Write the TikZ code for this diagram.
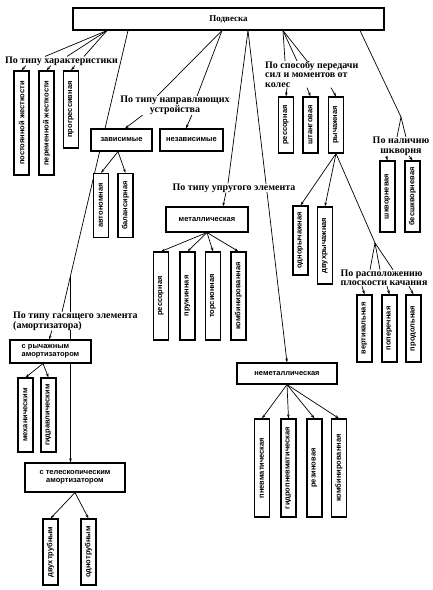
\documentclass[tikz,border=0pt]{standalone}
\usepackage{fontspec}
\setmainfont{Liberation Serif}
\setsansfont{Liberation Sans}
\usetikzlibrary{arrows.meta}
\usetikzlibrary{backgrounds}

\tikzset{
  box/.style={draw, line width=1.1pt, fill=white, inner sep=1pt, font=\sffamily\bfseries\fontsize{7.5}{8}\selectfont},
  vbox/.style={box, minimum width=15},
  lab/.style={fill=white, inner sep=0pt, font=\bfseries\fontsize{10}{9.5}\selectfont},
  conn/.style={line width=0.7pt}
}
\newcommand{\vt}[1]{\rotatebox{90}{#1}}

\begin{document}
\begin{tikzpicture}[x=1pt,y=-1pt,>={Stealth[length=4pt,width=2.6pt]}]
\useasboundingbox (0,0) rectangle (432,590);

\node [box, minimum width=311, minimum height=22, font=\bfseries\fontsize{9}{9}\selectfont] (podv) at (228.5,19) {Подвеска};

\node [lab] (lhar) at (61.5,61) {По типу характеристики};
\node [vbox, minimum height=104] (post) at (21.5,123) {\vt{постоянной жесткости}};
\node [vbox, minimum height=104] (perem) at (46.5,123) {\vt{переменной жесткости}};
\node [vbox, minimum height=77] (progr) at (71,109.5) {\vt{прогрессивная}};

\node [lab, align=center] (lnapr) at (175,105.5) {По типу направляющих\\устройства};
\node [box, minimum width=61, minimum height=22] (zav) at (121.5,140) {зависимые};
\node [box, minimum width=63, minimum height=22] (nezav) at (191.5,140) {независимые};
\node [vbox, minimum height=64] (avt) at (101,205.5) {\vt{автономная}};
\node [vbox, minimum height=64] (bal) at (125.5,205.5) {\vt{балансирная}};

\node [lab] (lupr) at (234,188) {По типу упругого элемента};
\node [box, minimum width=82, minimum height=25] (met) at (207,219.5) {металлическая};
\node [vbox, minimum height=88] (mres) at (161,296) {\vt{рессорная}};
\node [vbox, minimum height=88] (mpr) at (187.5,296) {\vt{пружинная}};
\node [vbox, minimum height=88] (mtors) at (213,296) {\vt{торсионная}};
\node [vbox, minimum height=88] (mkomb) at (238.5,296) {\vt{комбинированная}};

\node [box, minimum width=100, minimum height=21] (nemet) at (287,373.5) {неметаллическая};
\node [vbox, minimum height=98] (npn) at (262,468) {\vt{пневматическая}};
\node [vbox, minimum height=98] (ngpn) at (288.5,468) {\vt{гидропневматическая}};
\node [vbox, minimum height=98] (nrez) at (314.5,468) {\vt{резиновая}};
\node [vbox, minimum height=98] (nkomb) at (339,468) {\vt{комбинированная}};

\node [lab, align=left, anchor=north west] (lsil) at (265,61) {По способу передачи\\сил и моментов от\\колес};
\node [vbox, minimum height=56] (sres) at (286,125) {\vt{рессорная}};
\node [vbox, minimum height=56] (shtang) at (310.5,125) {\vt{штанговая}};
\node [vbox, minimum height=56] (rych) at (336,125) {\vt{рычажная}};
\node [vbox, minimum height=69] (odn) at (300.5,240.5) {\vt{однорычажная}};
\node [vbox, minimum height=77] (dvu) at (325,245.5) {\vt{двухрычажная}};

\node [lab, align=left] (lkach) at (384,278) {По расположению\\плоскости качания};
\node [vbox, minimum height=67] (vert) at (364.5,328.5) {\vt{вертикальная}};
\node [vbox, minimum height=67] (poper) at (389.5,328.5) {\vt{поперечная}};
\node [vbox, minimum height=67] (prod) at (413.5,328.5) {\vt{продольная}};

\node [lab, align=center] (lshk) at (401,146.5) {По наличию\\шкворня};
\node [vbox, minimum height=71] (shkv) at (387.5,196.5) {\vt{шкворневая}};
\node [vbox, minimum height=71] (bshkv) at (412.5,196.5) {\vt{бесшкворневая}};

\node [lab, align=left, anchor=north west] (lgas) at (13,312) {По типу гасящего элемента\\(амортизатора)};
\node [box, align=left, minimum width=81, minimum height=23] (rychag) at (50.5,351.5) {с рычажным\\амортизатором};
\node [vbox, minimum height=74] (meh) at (25.5,415) {\vt{механическим}};
\node [vbox, minimum height=74] (gidr) at (48.5,415) {\vt{гидравлическим}};
\node [box, align=center, minimum width=100, minimum height=29] (tele) at (75,477.5) {с телескопическим\\амортизатором};
\node [vbox, minimum height=66] (dvtr) at (50.5,552) {\vt{двухтрубным}};
\node [vbox, minimum height=66] (odtr) at (88.5,552) {\vt{однотрубным}};

\coordinate (gbr) at (70.5,276.5);
\coordinate (shbr) at (401,117);
\coordinate (kbr) at (375,243);

\begin{scope}[on background layer]
\fill [white] (0,0) rectangle (432,590);
% по типу характеристики
\draw [conn] (107,0 |- podv.south) -- (45,0 |- lhar.north);
\draw [conn] (107,0 |- podv.south) -- (67,0 |- lhar.north);
\draw [conn] (107,0 |- podv.south) -- (84,0 |- lhar.north);
\draw [conn,->] (26,0 |- lhar.south) -- (post.north);
\draw [conn,->] (51,0 |- lhar.south) -- (perem.north);
\draw [conn,->] (75,0 |- lhar.south) -- (progr.north);
% гасящий элемент
\draw [conn] (128,0 |- podv.south) -- (62,0 |- lgas.north);
\draw [conn,->] (gbr) -- (gbr |- tele.north);
\draw [conn,->] (52,0 |- lgas.south) -- (49,0 |- rychag.north);
\draw [conn,->] (43,0 |- rychag.south) -- (meh.north);
\draw [conn,->] (43,0 |- rychag.south) -- (gidr.north);
\draw [conn,->] (tele.south) -- (dvtr.north);
\draw [conn,->] (tele.south) -- (odtr.north);
% направляющие устройства
\draw [conn] (222,0 |- podv.south) -- (157,0 |- lnapr.north);
\draw [conn] (222,0 |- podv.south) -- (197,0 |- lnapr.north);
\draw [conn,->] (143,0 |- lnapr.south) -- (125,0 |- zav.north);
\draw [conn,->] (192,0 |- lnapr.south) -- (186,0 |- nezav.north);
\draw [conn,->] (118,0 |- zav.south) -- (avt.north);
\draw [conn,->] (118,0 |- zav.south) -- (bal.north);
% упругий элемент
\draw [conn] (248,0 |- podv.south) -- (228,0 |- lupr.north);
\draw [conn,->] (226,0 |- lupr.south) -- (223,0 |- met.north);
\draw [conn,->] (met.south) -- (mres.north);
\draw [conn,->] (met.south) -- (mpr.north);
\draw [conn,->] (met.south) -- (mtors.north);
\draw [conn,->] (met.south) -- (mkomb.north);
\draw [conn,->] (248,0 |- podv.south) -- (nemet.north);
\draw [conn,->] (nemet.south) -- (npn.north);
\draw [conn,->] (nemet.south) -- (ngpn.north);
\draw [conn,->] (nemet.south) -- (nrez.north);
\draw [conn,->] (nemet.south) -- (nkomb.north);
% передача сил
\draw [conn] (283,0 |- podv.south) -- (285,0 |- lsil.north);
\draw [conn] (283,0 |- podv.south) -- (297,0 |- lsil.north);
\draw [conn] (283,0 |- podv.south) -- (307,0 |- lsil.north);
\draw [conn,->] (287,0 |- lsil.south) -- (sres.north);
\draw [conn,->] (307,0 |- lsil.south) -- (shtang.north);
\draw [conn,->] (331,0 |- lsil.south) -- (rych.north);
\draw [conn,->] (rych.south) -- (odn.north);
\draw [conn,->] (rych.south) -- (dvu.north);
\draw [conn] (rych.south) -- (kbr);
\draw [conn] (kbr) -- (370,0 |- lkach.north);
\draw [conn] (kbr) -- (380,0 |- lkach.north);
\draw [conn] (kbr) -- (393,0 |- lkach.north);
\draw [conn,->] (362,0 |- lkach.south) -- (vert.north);
\draw [conn,->] (387,0 |- lkach.south) -- (poper.north);
\draw [conn,->] (409,0 |- lkach.south) -- (prod.north);
% шкворень
\draw [conn] (360,0 |- podv.south) -- (shbr);
\draw [conn] (shbr) -- (397,0 |- lshk.north);
\draw [conn] (shbr) -- (406,0 |- lshk.north);
\draw [conn,->] (386,0 |- lshk.south) -- (shkv.north);
\draw [conn,->] (409,0 |- lshk.south) -- (bshkv.north);
\end{scope}
\end{tikzpicture}
\end{document}
